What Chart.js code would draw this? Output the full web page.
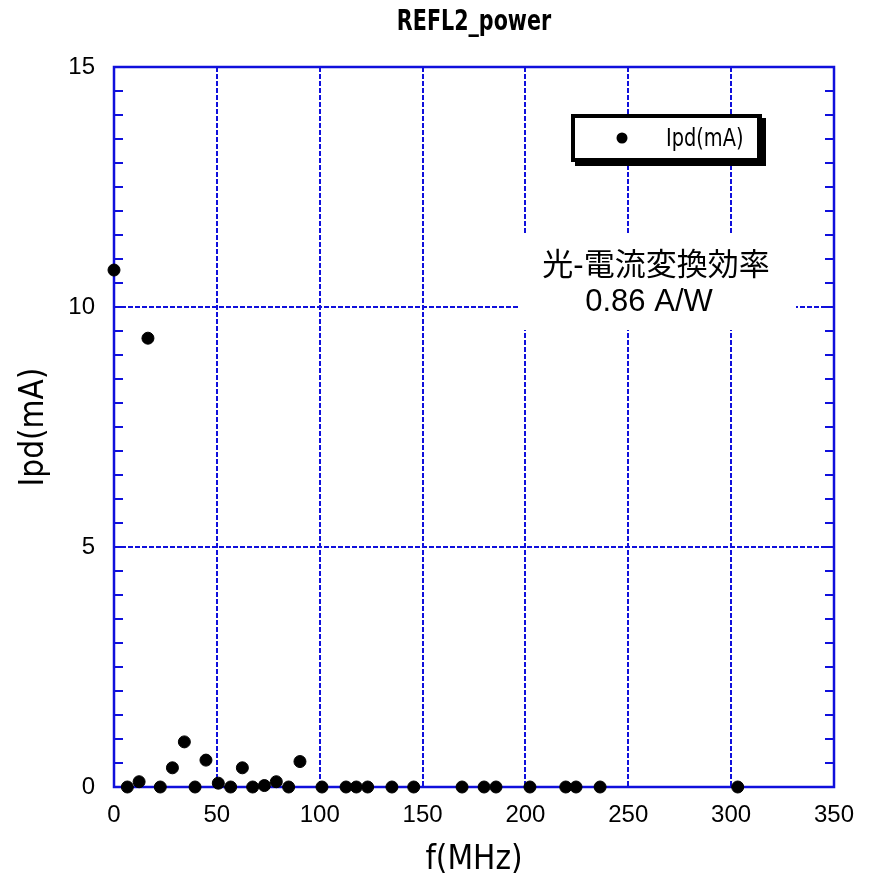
<!DOCTYPE html>
<html><head><meta charset="utf-8">
<script src="https://cdn.jsdelivr.net/npm/chart.js@4/dist/chart.umd.min.js"></script>
<style>html,body{margin:0;padding:0;background:#fff}#wrap{width:874px;height:883px}</style>
</head><body><div id="wrap"><canvas id="c" width="874" height="883"></canvas></div>
<script>
const chartTitle = 'REFL2_power';
const seriesLabel = 'Ipd(mA)';
const xAxisTitle = 'f(MHz)';
const yAxisTitle = 'Ipd(mA)';
const noteLines = ['光-電流変換効率', '0.86 A/W'];
const freqMHz = [0, 6.5, 12.2, 16.5, 22.5, 28.4, 34.2, 39.4, 44.7, 50.7, 56.7, 62.4, 67.4, 73.1, 78.9, 84.9, 90.4,
  101.1, 112.8, 117.8, 123.3, 135.1, 145.7, 169.2, 179.9, 185.7, 202.2, 219.6, 224.6, 236.3, 303.2];
const ipdMA = [10.77, 0, 0.11, 9.35, 0, 0.40, 0.94, 0, 0.56, 0.08, 0, 0.40, 0, 0.03, 0.11, 0, 0.53,
  0, 0, 0, 0, 0, 0, 0, 0, 0, 0, 0, 0, 0, 0];
const xTickValues = [0, 50, 100, 150, 200, 250, 300, 350];
const yTickValues = [0, 5, 10, 15];
const yMinorStep = 0.5;

const BLUE = '#1010dc';
const NARROW = "'DejaVu Sans Condensed', 'Liberation Sans', sans-serif";
const TICKFONT = "'Liberation Sans', sans-serif";
const NOTEFONT = "'Liberation Sans', 'Noto Sans CJK JP', sans-serif";

const points = freqMHz.map((f, i) => ({x: f, y: ipdMA[i]}));

function condensedText(ctx, text, x, y, sx, align) {
  ctx.save();
  ctx.translate(x, y);
  ctx.scale(sx, 1);
  ctx.textAlign = align;
  ctx.fillText(text, 0, 0);
  ctx.restore();
}

const deco = {
  id: 'deco',
  beforeDatasetsDraw(chart) {
    const {ctx, chartArea: a, scales: {y}} = chart;
    ctx.save();
    ctx.strokeStyle = BLUE;
    ctx.lineWidth = 2.5;
    ctx.strokeRect(a.left, a.top, a.right - a.left, a.bottom - a.top);
    ctx.lineWidth = 2;
    ctx.beginPath();
    for (let v = y.min; v <= y.max + 1e-9; v += yMinorStep) {
      const py = Math.round(y.getPixelForValue(v));
      ctx.moveTo(a.left, py); ctx.lineTo(a.left + 9, py);
      ctx.moveTo(a.right - 9, py); ctx.lineTo(a.right, py);
    }
    ctx.stroke();
    ctx.restore();
  },
  afterDraw(chart) {
    const {ctx, chartArea: a} = chart;
    ctx.save();
    // title
    ctx.fillStyle = '#000';
    ctx.font = "bold 28px " + NARROW;
    ctx.textBaseline = 'middle';
    condensedText(ctx, chartTitle, (a.left + a.right) / 2, 23, 0.82, 'center');
    // legend box
    ctx.fillStyle = '#000';
    ctx.fillRect(575, 118, 191, 48);
    ctx.fillRect(571, 114, 191, 48);
    ctx.fillStyle = '#fff';
    ctx.fillRect(575, 118, 182, 40);
    ctx.fillStyle = '#000';
    ctx.beginPath(); ctx.arc(622, 138, 5.5, 0, Math.PI * 2); ctx.fill();
    ctx.font = "25px " + NARROW;
    condensedText(ctx, seriesLabel, 666, 139, 0.86, 'left');
    // note box
    ctx.fillStyle = '#fff';
    ctx.fillRect(518, 233, 278, 97);
    ctx.fillStyle = '#000';
    ctx.font = "31px " + NOTEFONT;
    ctx.textAlign = 'center';
    ctx.fillText(noteLines[0], 656, 266);
    ctx.fillText(noteLines[1], 649, 302);
    ctx.restore();
  }
};

new Chart(document.getElementById('c'), {
  type: 'scatter',
  data: {datasets: [{
    label: seriesLabel,
    data: points,
    backgroundColor: '#000',
    borderColor: '#000',
    pointRadius: 6,
    pointHoverRadius: 6,
    clip: false
  }]},
  options: {
    responsive: false,
    devicePixelRatio: 1,
    animation: false,
    layout: {padding: {top: 67, right: 40, left: 0, bottom: 0}},
    plugins: {legend: {display: false}, tooltip: {enabled: false}, title: {display: false}},
    scales: {
      x: {
        type: 'linear', min: 0, max: 350,
        afterBuildTicks: s => { s.ticks = xTickValues.map(v => ({value: v})); },
        afterFit: s => { s.height = 96; },
        grid: {color: BLUE, lineWidth: 2, drawTicks: false},
        border: {display: false, dash: [5, 2]},
        ticks: {color: '#000', padding: 14, font: {family: TICKFONT, size: 24}, maxRotation: 0},
        title: {display: true, text: xAxisTitle, color: '#000', font: {family: NARROW, size: 33}, padding: {top: 0, bottom: 3}}
      },
      y: {
        type: 'linear', min: 0, max: 15,
        afterBuildTicks: s => { s.ticks = yTickValues.map(v => ({value: v})); },
        afterFit: s => { s.width = 114; },
        grid: {color: BLUE, lineWidth: 2, drawTicks: false},
        border: {display: false, dash: [5, 2]},
        ticks: {color: '#000', padding: 19, font: {family: TICKFONT, size: 24}},
        title: {display: true, text: yAxisTitle, color: '#000', font: {family: NARROW, size: 33}, padding: {top: 15, bottom: 0}}
      }
    }
  },
  plugins: [deco]
});
</script></body></html>
